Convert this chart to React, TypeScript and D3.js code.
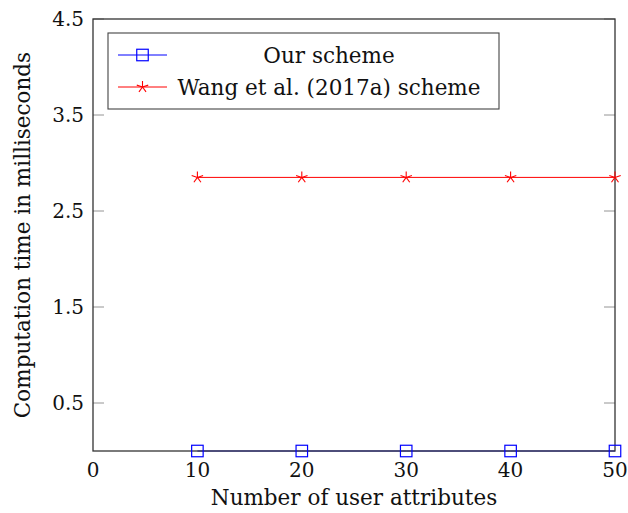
import React from "react";
import * as d3 from "d3";

const attributes = [10, 20, 30, 40, 50];
const ourScheme = [0, 0, 0, 0, 0];
const wangScheme = [2.85, 2.85, 2.85, 2.85, 2.85];
const xTicks = [0, 10, 20, 30, 40, 50];
const yTicks = [0.5, 1.5, 2.5, 3.5, 4.5];
const seriesNames = ["Our scheme", "Wang et al. (2017a) scheme"];

const W = 628, H = 513;
const L = 93, R = 615, T = 19, B = 451;
const FONT = "'DejaVu Serif', 'Liberation Serif', serif";
const FS = 20;
const FSL = 21.5;

function Star({ cx, cy, r, color }: { cx: number; cy: number; r: number; color: string }) {
  const lines = d3.range(5).map((k) => {
    const a = -Math.PI / 2 + (k * 2 * Math.PI) / 5;
    return <line key={k} x1={cx} y1={cy} x2={cx + r * Math.cos(a)} y2={cy + r * Math.sin(a)} stroke={color} strokeWidth={1.1} />;
  });
  return <g>{lines}</g>;
}

function Square({ cx, cy, s, color }: { cx: number; cy: number; s: number; color: string }) {
  return <rect x={cx - s / 2} y={cy - s / 2} width={s} height={s} fill="none" stroke={color} strokeWidth={1.2} />;
}

export default function App() {
  const x = d3.scaleLinear().domain([0, 50]).range([L, R]);
  const y = d3.scaleLinear().domain([0, 4.5]).range([B, T]);
  const line = d3.line<number>().x((_, i) => x(attributes[i])).y((d) => y(d));

  return (
    <svg width={W} height={H} style={{ position: "absolute", left: 0, top: 0 }} fontFamily={FONT}>
      <rect x={0} y={0} width={W} height={H} fill="white" />
      {yTicks.map((t) => (
        <g key={t}>
          <line x1={L} x2={L + 11} y1={y(t)} y2={y(t)} stroke="#888" strokeWidth={0.9} />
          <line x1={R} x2={R - 11} y1={y(t)} y2={y(t)} stroke="#888" strokeWidth={0.9} />
          <text x={L - 9} y={y(t)} dy="0.35em" textAnchor="end" fontSize={FS} fill="#111">
            {t.toFixed(1)}
          </text>
        </g>
      ))}
      {xTicks.map((t) => (
        <text key={t} x={x(t)} y={B + 26} textAnchor="middle" fontSize={FS} fill="#111">
          {t}
        </text>
      ))}
      <path d={line(ourScheme) || ""} fill="none" stroke="blue" strokeWidth={1} />
      <path d={line(wangScheme) || ""} fill="none" stroke="red" strokeWidth={1} />
      <rect x={L} y={T} width={R - L} height={B - T} fill="none" stroke="#333" strokeWidth={1.3} />
      {ourScheme.map((v, i) => (
        <Square key={i} cx={x(attributes[i])} cy={y(v)} s={11.5} color="blue" />
      ))}
      {wangScheme.map((v, i) => (
        <Star key={i} cx={x(attributes[i])} cy={y(v)} r={6} color="red" />
      ))}
      <rect x={108} y={33} width={391} height={76} fill="white" stroke="#444" strokeWidth={1.1} />
      <line x1={118} x2={167} y1={55} y2={55} stroke="blue" strokeWidth={1} />
      <Square cx={142.5} cy={55} s={11.5} color="blue" />
      <text x={329} y={55} dy="0.35em" textAnchor="middle" fontSize={FSL} fill="#111">{seriesNames[0]}</text>
      <line x1={118} x2={167} y1={87} y2={87} stroke="red" strokeWidth={1} />
      <Star cx={142.5} cy={87} r={6} color="red" />
      <text x={329} y={87} dy="0.35em" textAnchor="middle" fontSize={FSL} fill="#111">{seriesNames[1]}</text>
      <text x={(L + R) / 2} y={505} textAnchor="middle" fontSize={FSL} fill="#111">Number of user attributes</text>
      <text transform={`translate(30, ${(T + B) / 2}) rotate(-90)`} textAnchor="middle" fontSize={FSL} fill="#111">
        Computation time in milliseconds
      </text>
    </svg>
  );
}
